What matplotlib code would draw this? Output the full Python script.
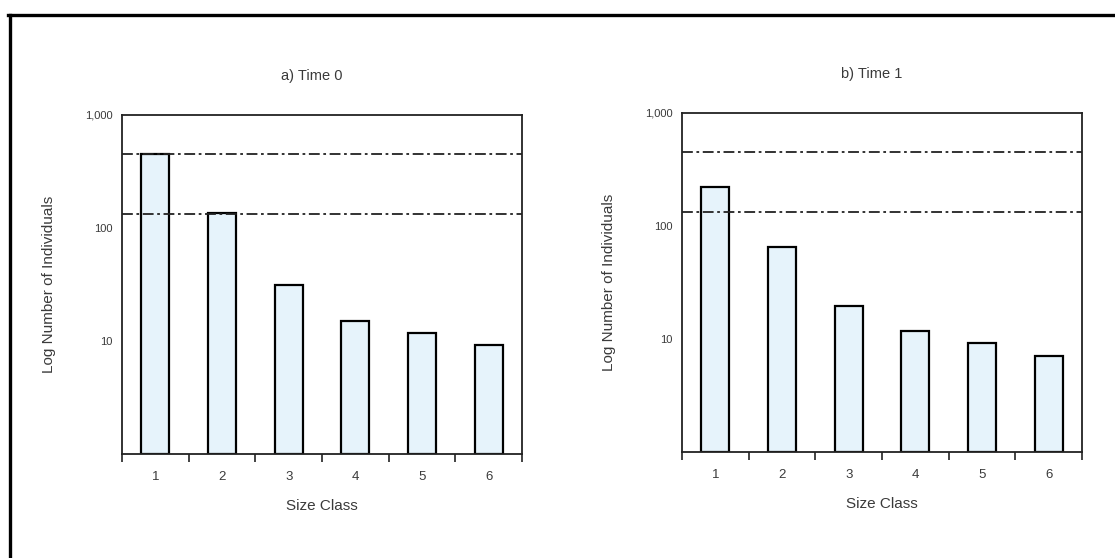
import numpy as np
import matplotlib.pyplot as plt
from matplotlib.lines import Line2D

plt.rcParams['font.family'] = ['Liberation Sans', 'DejaVu Sans']

size_classes = ['1', '2', '3', '4', '5', '6']
time0_counts = [455, 136, 31.5, 15, 11.8, 9.2]
time1_counts = [223, 65, 19.5, 11.8, 9.2, 7.1]
ref_levels = [455, 133]
y_ticks = [10, 100, 1000]
y_tick_labels = ['10', '100', '1,000']
titles = ['a) Time 0', 'b) Time 1']

fig = plt.figure(figsize=(11.15, 5.58), dpi=100)
W, H = 1115, 558
txt = '#3a3a3a'

# axes positions in pixels: left, top, right, bottom
boxes = [(122, 115, 522, 454), (682, 113, 1082, 452)]
series = [time0_counts, time1_counts]

for (l, t, r, b), counts, title in zip(boxes, series, titles):
    ax = fig.add_axes([l / W, 1 - b / H, (r - l) / W, (b - t) / H])
    x = np.arange(len(size_classes))
    ax.bar(x, np.subtract(counts, 1), width=0.42, bottom=1, color='#e6f3fb',
           edgecolor='black', linewidth=1.6, zorder=2)
    for lvl in ref_levels:
        ax.axhline(lvl, color='#222222', linewidth=1.3,
                   dashes=(6, 2, 1.5, 2), zorder=3)
    ax.set_yscale('log')
    ax.set_ylim(1, 1000)
    ax.set_xlim(-0.5, len(size_classes) - 0.5)
    ax.set_yticks(y_ticks)
    ax.set_yticklabels(y_tick_labels, fontsize=8, color=txt)
    ax.minorticks_off()
    ax.tick_params(axis='y', length=0, pad=7)
    # category labels without ticks, boundary ticks below the axis
    ax.set_xticks(x)
    ax.set_xticklabels(size_classes, fontsize=9.5, color=txt)
    ax.tick_params(axis='x', length=0, pad=12)
    ax.set_xticks(np.arange(len(size_classes) + 1) - 0.5, minor=True)
    ax.tick_params(axis='x', which='minor', length=6, width=1.2,
                   direction='out', color='#222222')
    for s in ax.spines.values():
        s.set_linewidth(1.3)
        s.set_color('#222222')
    ax.set_ylabel('Log Number of Individuals', fontsize=11, color=txt)
    ax.yaxis.set_label_coords(-0.166, 0.5)
    ax.set_xlabel('Size Class', fontsize=11, color=txt)
    ax.xaxis.set_label_coords(0.5, -0.133)
    ax.text(0.475, 1.115, title, transform=ax.transAxes, ha='center',
            va='center', fontsize=10.5, color=txt)

# outer frame (top and left edges)
fig.add_artist(Line2D([8 / W, 1], [1 - 15 / H] * 2, color='black',
                      linewidth=2.4, transform=fig.transFigure))
fig.add_artist(Line2D([10 / W] * 2, [0, 1 - 15 / H], color='black',
                      linewidth=2.4, transform=fig.transFigure))

fig.savefig('out.png', dpi=100, facecolor='white')
